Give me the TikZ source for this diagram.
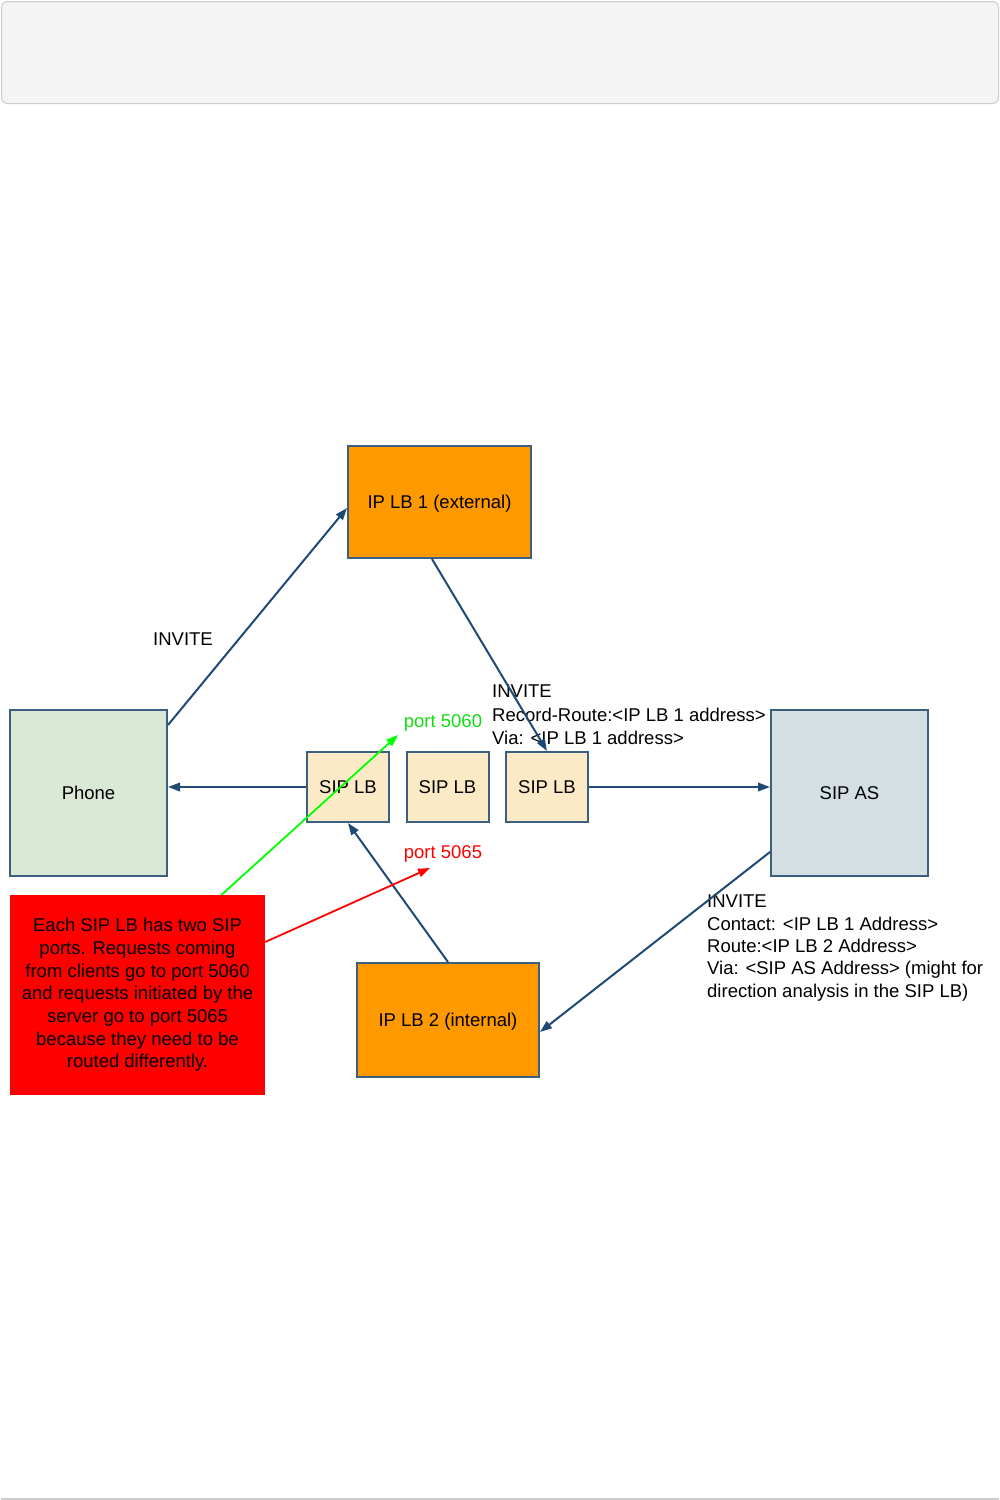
\documentclass[tikz,border=0pt]{standalone}
\usepackage{fontspec}
\setmainfont{Liberation Sans}
\usetikzlibrary{arrows.meta,calc}
\definecolor{panelfill}{HTML}{F4F4F4}
\definecolor{panelline}{HTML}{CCCCCC}
\definecolor{boxline}{HTML}{3A5F80}
\definecolor{connblue}{HTML}{1F4A75}
\definecolor{lborange}{HTML}{FF9900}
\definecolor{phonefill}{HTML}{DAE8D6}
\definecolor{asfill}{HTML}{D3DFE3}
\definecolor{sipfill}{HTML}{FCEAC6}
\definecolor{portgreen}{HTML}{00FF00}
\definecolor{portgreentext}{HTML}{11DD11}
\definecolor{portred}{HTML}{FF0000}
\begin{document}
\begin{tikzpicture}[x=1pt,y=-1pt,
  font=\fontsize{18.5}{22.5}\selectfont,
  box/.style={draw=boxline, line width=2pt, inner sep=0pt, text height=13.5pt, text depth=1pt},
  conn/.style={draw=connblue, line width=2pt, -{Triangle[length=12pt,width=8.5pt]}},
  portline/.style={line width=1.8pt, -{Triangle[length=12pt,width=8.5pt]}},
  lbl/.style={inner sep=0pt, align=left, anchor=north west}]
\useasboundingbox (0,0) rectangle (1000,1500);
% page chrome
\draw[panelline, fill=panelfill, line width=1pt, rounded corners=6pt] (1.5,1.5) rectangle (998.5,103.5);
\draw[panelline, line width=1.5pt] (1,1499) -- (999,1499);
% boxes
\node[box, fill=lborange, minimum width=183pt, minimum height=112pt] (iplb1) at (439.5,502) {IP LB 1 (external)};
\node[box, fill=phonefill, minimum width=157pt, minimum height=166pt] (phone) at (88.5,793) {Phone};
\node[box, fill=sipfill, minimum width=82pt, minimum height=70pt] (siplb1) at (348,787) {SIP LB};
\node[box, fill=sipfill, minimum width=82pt, minimum height=70pt] (siplb2) at (447.5,787) {SIP LB};
\node[box, fill=sipfill, minimum width=82pt, minimum height=70pt] (siplb3) at (547,787) {SIP LB};
\node[box, fill=asfill, minimum width=157pt, minimum height=166pt] (sipas) at (849.5,793) {SIP AS};
\node[box, fill=lborange, minimum width=182pt, minimum height=114pt] (iplb2) at (448,1020) {IP LB 2 (internal)};
\node[fill=portred, minimum width=255pt, minimum height=200pt, inner sep=0pt, align=center, font=\fontsize{18.5}{22.7}\selectfont] (note) at (137.5,995)
  {Each SIP LB has two SIP\\ports. Requests coming\\from clients go to port 5060\\and requests initiated by the\\server go to port 5065\\because they need to be\\routed differently.};
% labels
\node[inner sep=0pt] (inv1) at (183,639) {INVITE};
\node[lbl, font=\fontsize{18.5}{23.5}\selectfont] (inv2) at (492,685) {INVITE\\Record-Route:<IP LB 1 address>\\Via: <IP LB 1 address>};
\node[lbl, font=\fontsize{18.5}{22.3}\selectfont] (inv3) at (707,895) {INVITE\\Contact: <IP LB 1 Address>\\Route:<IP LB 2 Address>\\Via: <SIP AS Address> (might for\\direction analysis in the SIP LB)};
\node[inner sep=0pt, text=portgreentext] (p5060) at (443,723) {port 5060};
\node[inner sep=0pt, text=portred] (p5065) at (443,854) {port 5065};
\coordinate (g tip) at (398,735);
\coordinate (r tip) at (430,868);
% connectors
\draw[conn] ([yshift=-16pt]phone.north east) -- ([yshift=-6pt]iplb1.west);
\draw[conn] ([xshift=-7.5pt]iplb1.south) -- (siplb3.north);
\draw[conn] (siplb1.west) -- (siplb1.west -| phone.east);
\draw[conn] (siplb3.east) -- (siplb3.east -| sipas.west);
\draw[conn] ([yshift=25pt]sipas.south west) -- ([yshift=-12pt]iplb2.east);
\draw[conn] (iplb2.north) -- (siplb1.south);
\draw[portline, portgreen] ([xshift=84pt]note.north) -- (g tip);
\draw[portline, portred] ([yshift=53pt]note.east) -- (r tip);
\end{tikzpicture}
\end{document}
